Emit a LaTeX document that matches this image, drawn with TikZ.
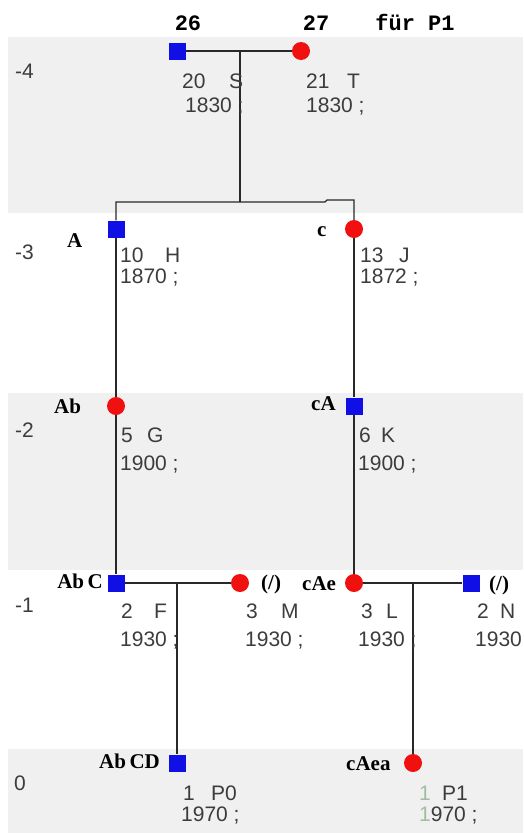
\documentclass[tikz,border=0pt]{standalone}
\usepackage{fontspec}
\setmainfont{Liberation Sans}
\newfontfamily\lblfont{Liberation Serif}
\newfontfamily\cnfont{Liberation Mono}
\definecolor{bandgray}{RGB}{240,240,240}
\definecolor{txtgray}{RGB}{60,60,60}
\definecolor{mblue}{RGB}{16,16,230}
\definecolor{fred}{RGB}{240,16,16}
\definecolor{lnc}{RGB}{40,40,40}
\definecolor{faint}{RGB}{160,190,160}
\begin{document}
\begin{tikzpicture}[x=1pt,y=-1pt,
  male/.style={rectangle,fill=mblue,minimum size=17pt,inner sep=0pt},
  female/.style={circle,fill=fred,minimum size=18pt,inner sep=0pt},
  info/.style={anchor=base west,inner sep=0pt,text=txtgray,font=\fontsize{21}{21}\selectfont},
  gen/.style={anchor=base west,inner sep=0pt,text=txtgray,font=\fontsize{21}{21}\selectfont},
  code/.style={anchor=base west,inner sep=0pt,font=\lblfont\bfseries\fontsize{21}{21}\selectfont},
  codee/.style={code,anchor=base east},
  num/.style={anchor=base,inner sep=0pt,font=\cnfont\bfseries\fontsize{22}{22}\selectfont},
  link/.style={draw=lnc,line width=1.4pt}]
\useasboundingbox (0,0) rectangle (523,833);
% generation bands
\fill[bandgray] (8,37) rectangle (523,213);
\fill[bandgray] (8,393) rectangle (523,570);
\fill[bandgray] (8,749) rectangle (523,833);
% generation labels
\node[gen] (g4) at (15,78) {-4};
\node[gen] (g3) at (15,259) {-3};
\node[gen] (g2) at (15,437) {-2};
\node[gen] (g1) at (15,612) {-1};
\node[gen] (g0) at (14,790) {0};
% header numbers
\node[num] (n26) at (188,30) {26};
\node[num] (n27) at (316,30) {27};
\node[num] (nfp) at (415,30) {für P1};
% persons
\node[male] (S) at (177,51) {};
\node[female] (T) at (301,51) {};
\node[male] (H) at (116,229) {};
\node[female] (J) at (354,229) {};
\node[female] (G) at (116,406) {};
\node[male] (K) at (354,406) {};
\node[male] (F) at (116,583) {};
\node[female] (M) at (240,583) {};
\node[female] (L) at (354,583) {};
\node[male] (N) at (471,583) {};
\node[male] (P0) at (177,763) {};
\node[female] (P1) at (413,763) {};
% junction points
\coordinate (st) at (240,51);
\coordinate (stb) at (240,202);
\coordinate (jog1) at (325,202);
\coordinate (jog2) at (327,200);
\coordinate (fm) at (177,583);
\coordinate (ln) at (413,583);
% connectors
\draw[link] (S) -- (T);
\draw[link] (st) -- (stb);
\draw[link] (H) |- (jog1) -- (jog2) -| (J);
\draw[link] (H) -- (G);
\draw[link] (J) -- (K);
\draw[link] (G) -- (F);
\draw[link] (K) -- (L);
\draw[link] (F) -- (M);
\draw[link] (L) -- (N);
\draw[link] (fm) -- (P0);
\draw[link] (ln) -- (P1);
% codes
\node[code] (cH) at (67,247) {A};
\node[code] (cJ) at (317,236) {c};
\node[code] (cG) at (54,413) {Ab};
\node[code] (cK) at (311,410) {cA};
\node[codee] (cF) at (103,588) {Ab\,C};
\node[code] (cM) at (261,589) {(/)};
\node[code] (cL) at (302,590) {cAe};
\node[code] (cN) at (489,590) {(/)};
\node[code] (cP0) at (99,768) {Ab\,CD};
\node[code] (cP1) at (346,770) {cAea};
% person info
\node[info] (S1) at (182,88) {20};
\node[info] (S2) at (229,88) {S};
\node[info] (S3) at (185,112) {1830 ;};
\node[info] (T1) at (306,88) {21};
\node[info] (T2) at (347,88) {T};
\node[info] (T3) at (306,112) {1830 ;};
\node[info] (H1) at (120,262) {10};
\node[info] (H2) at (165,262) {H};
\node[info] (H3) at (120,283) {1870 ;};
\node[info] (J1) at (360,262) {13};
\node[info] (J2) at (399,262) {J};
\node[info] (J3) at (360,283) {1872 ;};
\node[info] (G1) at (121,442) {5};
\node[info] (G2) at (147,442) {G};
\node[info] (G3) at (120,470) {1900 ;};
\node[info] (K1) at (359,442) {6};
\node[info] (K2) at (381,442) {K};
\node[info] (K3) at (358,470) {1900 ;};
\node[info] (F1) at (121,618) {2};
\node[info] (F2) at (154,618) {F};
\node[info] (F3) at (120,646) {1930 ;};
\node[info] (M1) at (246,618) {3};
\node[info] (M2) at (281,618) {M};
\node[info] (M3) at (245,646) {1930 ;};
\node[info] (L1) at (361,618) {3};
\node[info] (L2) at (386,618) {L};
\node[info] (L3) at (358,646) {1930 ;};
\node[info] (N1) at (477,618) {2};
\node[info] (N2) at (500,618) {N};
\node[info] (N3) at (475,646) {1930};
\node[info] (P01) at (183,800) {1};
\node[info] (P02) at (211,800) {P0};
\node[info] (P03) at (181,821) {1970 ;};
\node[info] (P11) at (419,800) {\textcolor{faint}{1}};
\node[info] (P12) at (442,800) {P1};
\node[info] (P13) at (419,821) {\textcolor{faint}{1}970 ;};
\end{tikzpicture}
\end{document}
